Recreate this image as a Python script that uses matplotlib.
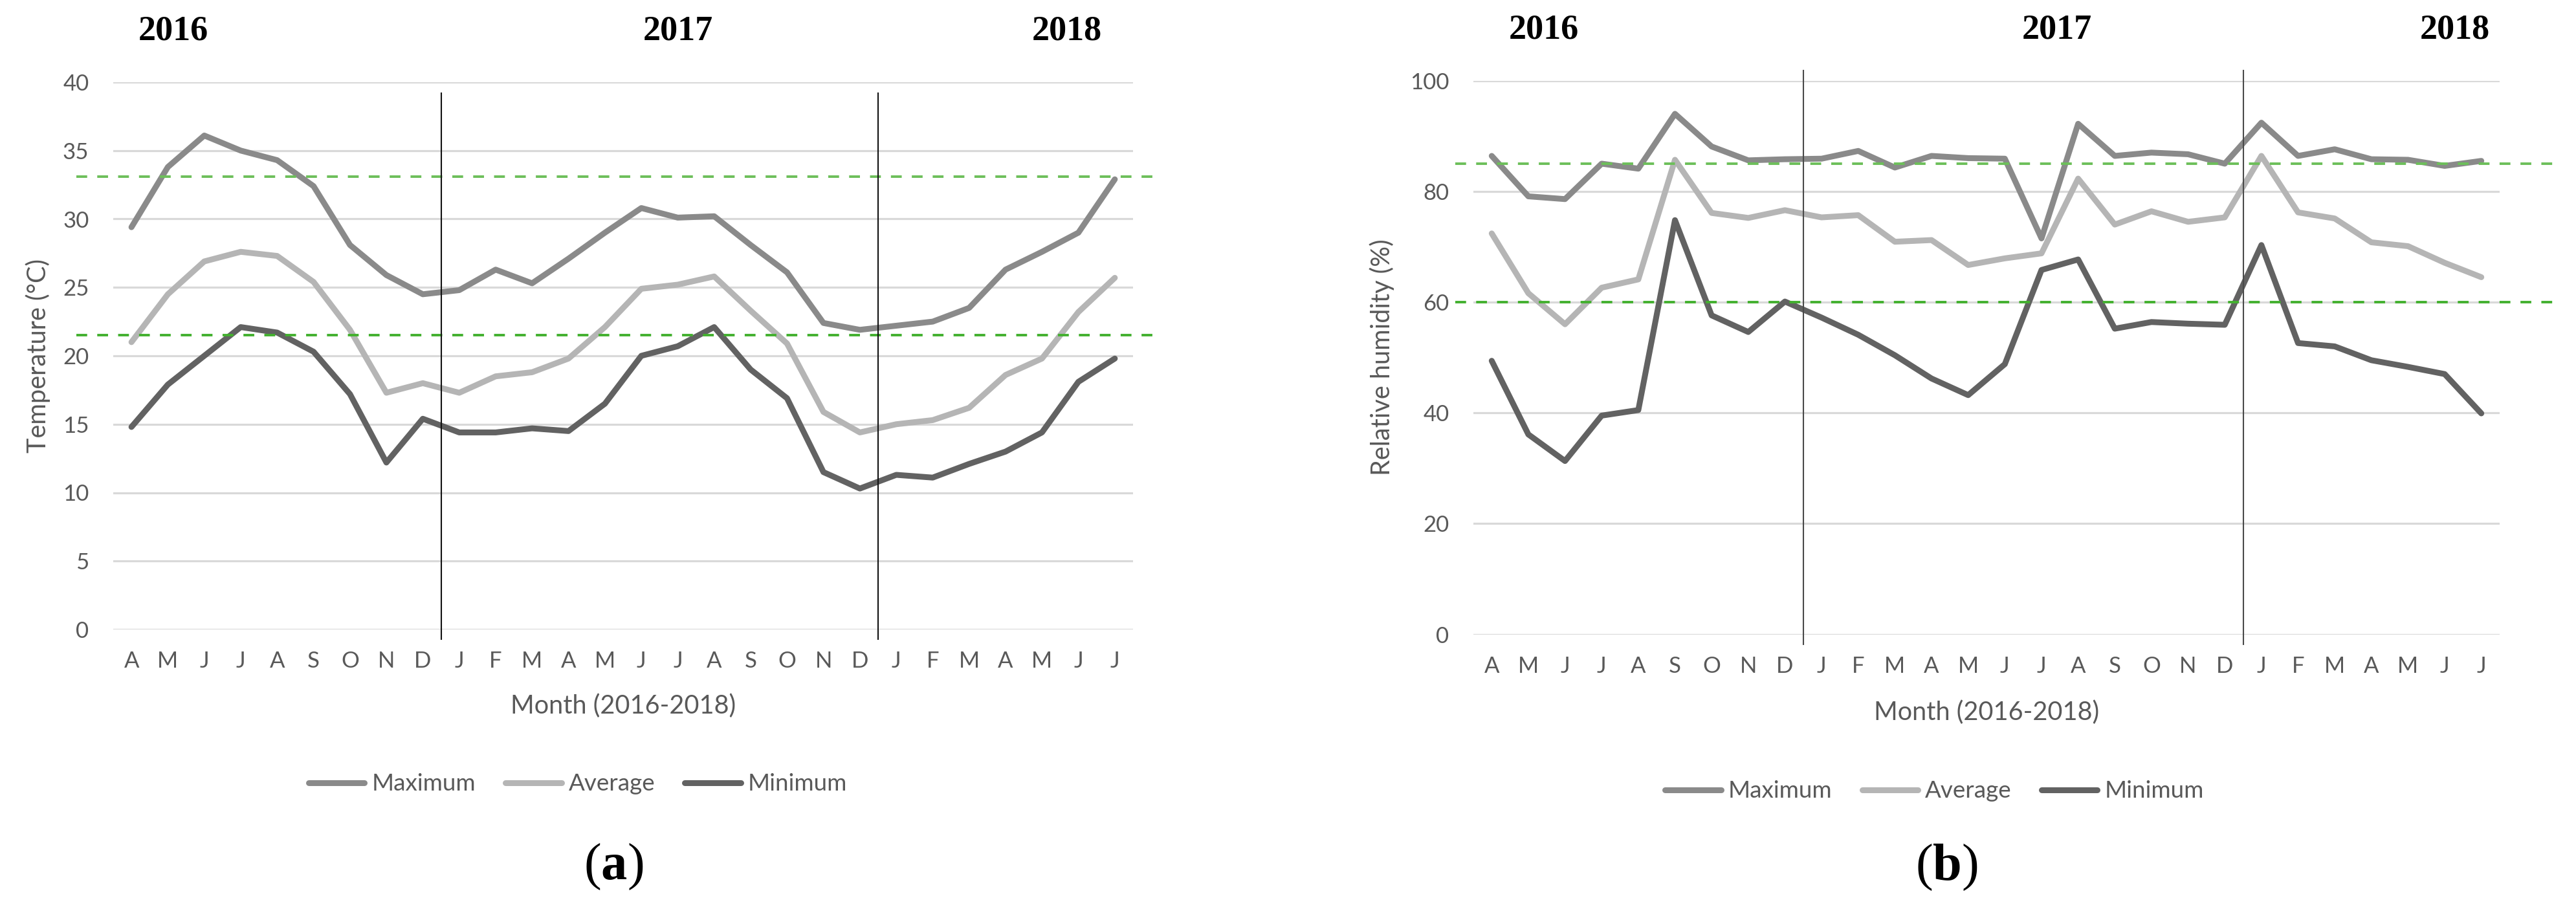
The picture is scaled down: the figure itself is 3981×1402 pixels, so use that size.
import matplotlib
matplotlib.use("Agg")
import matplotlib.pyplot as plt
from matplotlib.lines import Line2D

plt.rcParams['mathtext.fontset'] = 'custom'
plt.rcParams['mathtext.bf'] = 'Liberation Serif:bold'
plt.rcParams['mathtext.rm'] = 'Liberation Serif'

months = ['A', 'M', 'J', 'J', 'A', 'S', 'O', 'N', 'D',
          'J', 'F', 'M', 'A', 'M', 'J', 'J', 'A', 'S', 'O', 'N', 'D',
          'J', 'F', 'M', 'A', 'M', 'J', 'J']

temp_max = [29.4, 33.8, 36.1, 35.0, 34.3, 32.4, 28.1, 25.9, 24.5, 24.8, 26.3, 25.3, 27.1, 29.0,
            30.8, 30.1, 30.2, 28.1, 26.1, 22.4, 21.9, 22.2, 22.5, 23.5, 26.3, 27.6, 29.0, 32.9]
temp_avg = [21.0, 24.5, 26.9, 27.6, 27.3, 25.4, 21.9, 17.3, 18.0, 17.3, 18.5, 18.8, 19.8, 22.1,
            24.9, 25.2, 25.8, 23.3, 20.9, 15.9, 14.4, 15.0, 15.3, 16.2, 18.6, 19.8, 23.2, 25.7]
temp_min = [14.8, 17.9, 20.0, 22.1, 21.7, 20.3, 17.2, 12.2, 15.4, 14.4, 14.4, 14.7, 14.5, 16.5,
            20.0, 20.7, 22.1, 19.0, 16.9, 11.5, 10.3, 11.3, 11.1, 12.1, 13.0, 14.4, 18.1, 19.8]

hum_max = [86.4, 79.1, 78.6, 85.0, 84.1, 94.0, 88.1, 85.6, 85.8, 85.9, 87.3, 84.3, 86.4, 86.0,
           85.9, 71.5, 92.2, 86.4, 87.0, 86.7, 85.0, 92.4, 86.4, 87.6, 85.8, 85.7, 84.6, 85.5]
hum_avg = [72.4, 61.6, 56.0, 62.6, 64.1, 85.7, 76.1, 75.2, 76.6, 75.3, 75.7, 70.9, 71.2, 66.7,
           67.9, 68.8, 82.3, 74.0, 76.4, 74.5, 75.3, 86.4, 76.2, 75.1, 70.8, 70.1, 67.1, 64.5]
hum_min = [49.4, 36.1, 31.3, 39.5, 40.5, 74.8, 57.6, 54.6, 60.1, 57.2, 54.1, 50.4, 46.2, 43.2,
           48.8, 65.8, 67.7, 55.2, 56.4, 56.1, 55.9, 70.3, 52.6, 52.0, 49.5, 48.3, 47.0, 39.9]

temp_thresholds = [33.1, 21.5]
hum_thresholds = [85.0, 60.0]
year_separators = [8.5, 20.5]
years = ['2016', '2017', '2018']
series_names = ['Maximum', 'Average', 'Minimum']

W, H = 3981, 1402
DPI = 100
fig = plt.figure(figsize=(W / DPI, H / DPI), dpi=DPI)

def px2fig(x, y):
    return x / W, 1 - y / H

def make_ax(left, right, top, bottom):
    l, t = px2fig(left, top)
    r, b = px2fig(right, bottom)
    return fig.add_axes([l, b, r - l, t - b])

series_colors = ['#8a8a8a', '#b5b5b5', '#626262']
text_color = '#595959'
grid_color = '#d9d9d9'
LW = 6.5
FONT = 'Lato'

def draw_panel(ax, data, ylim, yticks, ylabel, thresholds, th_xr, sep_color, sep_yr,
               ylabel_x, xlabel_y, leg_x, leg_y):
    x = list(range(len(months)))
    for vals, c, name in zip(data, series_colors, series_names):
        ax.plot(x, vals, color=c, lw=LW, solid_capstyle='round', solid_joinstyle='round',
                label=name, zorder=3)
    ax.set_xlim(-0.5, len(months) - 0.5)
    ax.set_ylim(*ylim)
    ax.set_yticks(yticks)
    ax.set_xticks(x)
    ax.set_xticklabels(months)
    for s in ax.spines.values():
        s.set_visible(False)
    ax.tick_params(axis='both', length=0, labelsize=25, labelcolor=text_color)
    ax.tick_params(axis='y', pad=27)
    ax.tick_params(axis='x', pad=24)
    for lab in ax.get_xticklabels() + ax.get_yticklabels():
        lab.set_family(FONT)
    ax.grid(axis='y', color=grid_color, lw=2.3, zorder=0)
    ax.set_axisbelow(True)
    # threshold lines
    gcols = ['#6dbf5a', '#43b02f']
    for th, gc in zip(thresholds, gcols):
        ax.axhline(th, xmin=th_xr[0], xmax=th_xr[1], color=gc, lw=2.8,
                   dashes=(4.3, 4.0), clip_on=False, zorder=4)
    # year separators
    for sx in year_separators:
        ax.plot([sx, sx], sep_yr, color=sep_color, lw=1.5, clip_on=False, zorder=5)
    ax.set_ylabel(ylabel, family=FONT, fontsize=28.5, color=text_color)
    ax.yaxis.set_label_coords(ylabel_x, 0.5)
    ax.yaxis.label.set_va('center')
    ax.set_xlabel('Month (2016-2018)', family=FONT, fontsize=28.5, color=text_color)
    ax.xaxis.set_label_coords(0.5, xlabel_y)
    ax.xaxis.label.set_va('center')
    handles = [Line2D([0], [0], color=c, lw=LW, solid_capstyle='round') for c in series_colors]
    leg = ax.legend(handles, series_names, loc='center', bbox_to_anchor=(leg_x, leg_y),
                    ncol=3, frameon=False, handlelength=2.35, handletextpad=0.3,
                    columnspacing=1.25, prop={'family': FONT, 'size': 26.5})
    for t in leg.get_texts():
        t.set_color(text_color)

ax_a = make_ax(175, 1751, 127, 973)
draw_panel(ax_a, [temp_max, temp_avg, temp_min], (0, 40), list(range(0, 41, 5)),
           'Temperature (°C)', temp_thresholds, (-0.036, 1.022), '#111111', (-0.7, 39.2),
           -0.0736, -0.1395, 0.4556, -0.2825)

ax_b = make_ax(2277, 3863, 124.6, 980.5)
draw_panel(ax_b, [hum_max, hum_avg, hum_min], (0, 100), list(range(0, 101, 20)),
           'Relative humidity (%)', hum_thresholds, (-0.0177, 1.0587), '#4a4a4a', (-1.8, 101.8),
           -0.0889, -0.1408, 0.4493, -0.2833)

# Year labels
year_pos_a = [(268, 49), (1048, 49), (1649, 49)]
year_pos_b = [(2386, 47), (3179, 47), (3794, 47)]
for pos in (year_pos_a, year_pos_b):
    for yr, (px, py) in zip(years, pos):
        fx, fy = px2fig(px, py)
        fig.text(fx, fy, yr, ha='center', va='center', family='Liberation Serif',
                 weight='bold', fontsize=39, color='black')

# Panel letters
for letter, (px, py) in zip(['a', 'b'], [(948, 1340), (3008, 1341)]):
    fx, fy = px2fig(px, py)
    fig.text(fx, fy, '($\\mathbf{' + letter + '}$)', ha='center', va='center',
             family='Liberation Serif', fontsize=58, color='black')

fig.savefig('out.png', dpi=DPI, facecolor='white')
